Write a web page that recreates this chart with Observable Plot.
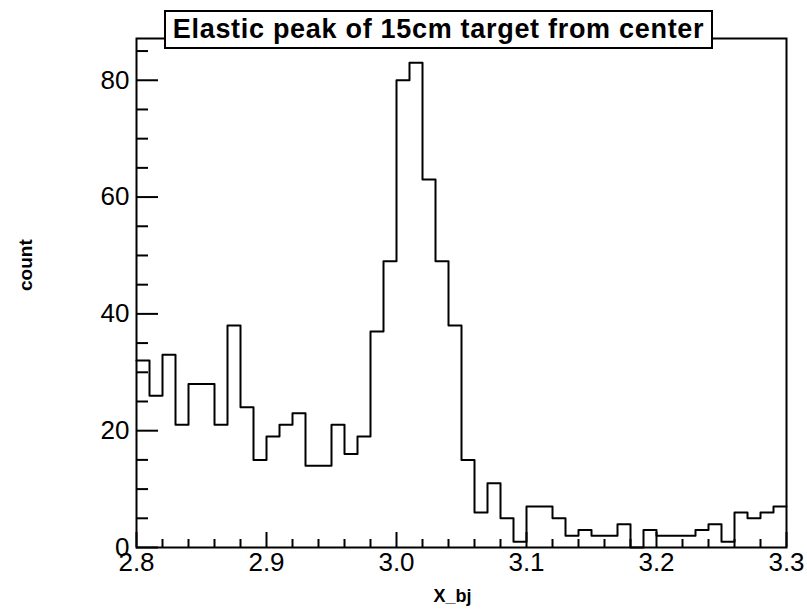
<!DOCTYPE html>
<html>
<head>
<meta charset="utf-8">
<script src="https://cdn.jsdelivr.net/npm/d3@7"></script>
<script src="https://cdn.jsdelivr.net/npm/@observablehq/plot@0.6"></script>
<style>
  html, body { margin: 0; padding: 0; background: #fff; }
  #wrap { position: relative; width: 807px; height: 614px; }
  #title {
    position: absolute; left: 164px; top: 10px; width: 545px; height: 35px;
    border: 2px solid #000; background: #fff;
    font-family: "Liberation Sans", Arial, Helvetica, sans-serif;
    font-weight: bold; font-size: 27px; line-height: 35px; text-align: center;
    letter-spacing: 0.7px; white-space: nowrap; color: #000;
  }
</style>
</head>
<body>
<div id="wrap"><div id="title">Elastic peak of 15cm target from center</div></div>
<script>
// Bin edges (x_bj) and counts per bin
const binEdges = [2.80, 2.81, 2.82, 2.83, 2.84, 2.85, 2.86, 2.87, 2.88, 2.89,
                  2.90, 2.91, 2.92, 2.93, 2.94, 2.95, 2.96, 2.97, 2.98, 2.99,
                  3.00, 3.01, 3.02, 3.03, 3.04, 3.05, 3.06, 3.07, 3.08, 3.09,
                  3.10, 3.11, 3.12, 3.13, 3.14, 3.15, 3.16, 3.17, 3.18, 3.19,
                  3.20, 3.21, 3.22, 3.23, 3.24, 3.25, 3.26, 3.27, 3.28, 3.29, 3.30];
const counts = [32, 26, 33, 21, 28, 28, 21, 38, 24, 15,
                19, 21, 23, 14, 14, 21, 16, 19, 37, 49,
                80, 83, 63, 49, 38, 15, 6, 11, 5, 1,
                7, 7, 5, 2, 3, 2, 2, 4, 0, 3,
                2, 2, 2, 3, 4, 1, 6, 5, 6, 7];
const xMajor = [2.8, 2.9, 3.0, 3.1, 3.2, 3.3];
const xMinor = [2.82, 2.84, 2.86, 2.88, 2.92, 2.94, 2.96, 2.98, 3.02, 3.04, 3.06, 3.08,
                3.12, 3.14, 3.16, 3.18, 3.22, 3.24, 3.26, 3.28];
const yMajor = [0, 20, 40, 60, 80];
const yMinor = [5, 10, 15, 25, 30, 35, 45, 50, 55, 65, 70, 75, 85];
const yMax = 87.15;

const steps = binEdges.map((e, i) => ({x: e, y: counts[Math.min(i, counts.length - 1)]}));

const W = 807, H = 614, mL = 136, mR = 21, mT = 38, mB = 67;
const fw = W - mL - mR, fh = H - mT - mB;
const font = "Liberation Sans, Arial, Helvetica, sans-serif";

const chart = Plot.plot({
  width: W, height: H,
  marginLeft: mL, marginRight: mR, marginTop: mT, marginBottom: mB,
  x: {domain: [2.8, 3.3]},
  y: {domain: [0, yMax]},
  style: {fontFamily: font, fontSize: "26px", color: "#000", background: "#fff"},
  marks: [
    Plot.line(steps, {x: "x", y: "y", curve: "step-after", stroke: "#000", strokeWidth: 2}),
    Plot.tickX(xMajor, {x: d => d, insetTop: fh - 15, stroke: "#000", strokeWidth: 2}),
    Plot.tickX(xMinor, {x: d => d, insetTop: fh - 8, stroke: "#000", strokeWidth: 2}),
    Plot.tickY(yMajor, {y: d => d, insetRight: fw - 22, stroke: "#000", strokeWidth: 2}),
    Plot.tickY(yMinor, {y: d => d, insetRight: fw - 12, stroke: "#000", strokeWidth: 2}),
    Plot.axisX({ticks: xMajor, tickSize: 0, tickPadding: 5, tickFormat: d3.format(".1f"), label: null, fontSize: 26}),
    Plot.axisY({ticks: yMajor, tickSize: 0, tickPadding: 7, label: null, fontSize: 26}),
    Plot.frame({stroke: "#000", strokeWidth: 2}),
    Plot.text(["X_bj"], {text: d => d, frameAnchor: "bottom", dx: -9, dy: 54, fontWeight: "bold", fontSize: 18}),
    Plot.text(["count"], {text: d => d, frameAnchor: "left", dx: -111, dy: -2, rotate: -90, fontWeight: "bold", fontSize: 19})
  ]
});
const wrap = document.getElementById("wrap");
wrap.insertBefore(chart, wrap.firstChild);
chart.style.position = "absolute";
chart.style.left = "0px";
chart.style.top = "0px";
</script>
</body>
</html>
